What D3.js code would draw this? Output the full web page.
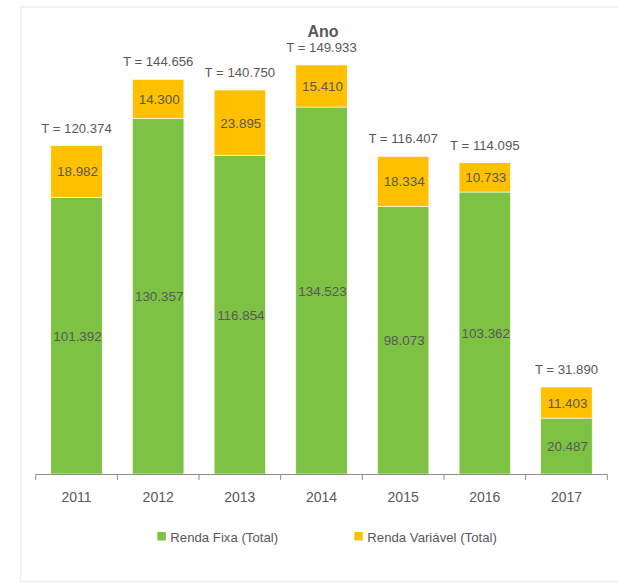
<!DOCTYPE html>
<html>
<head>
<meta charset="utf-8">
<script src="https://cdn.jsdelivr.net/npm/d3@7"></script>
<style>
  body { margin: 0; background: #fff; }
  text { font-family: "Liberation Sans", Arial, sans-serif; fill: #595959; }
</style>
</head>
<body>
<div id="chart"></div>
<script>
// data
var years = ["2011", "2012", "2013", "2014", "2015", "2016", "2017"];
var rendaFixa = [101.392, 130.357, 116.854, 134.523, 98.073, 103.362, 20.487];
var rendaVariavel = [18.982, 14.300, 23.895, 15.410, 18.334, 10.733, 11.403];
var totals = [120.374, 144.656, 140.750, 149.933, 116.407, 114.095, 31.890];
var seriesNames = ["Renda Fixa (Total)", "Renda Variável (Total)"];
var seriesColors = ["#7dc243", "#ffc000"];

var W = 618, H = 584;
var fmt = function(v) { return v.toFixed(3); };

var svg = d3.select("#chart").append("svg")
  .attr("width", W).attr("height", H);

// chart frame
svg.append("rect")
  .attr("x", 20.5).attr("y", 7).attr("width", 620).attr("height", 574.5)
  .attr("fill", "none").attr("stroke", "#ededed").attr("stroke-width", 1.5);

var x = d3.scaleBand().domain(years).range([35.7, 607.3])
  .paddingInner(0.37).paddingOuter(0.185);
var y = d3.scaleLinear().domain([0, 160]).range([474, 37.5]);

// title
svg.append("text")
  .attr("x", 323).attr("y", 37)
  .attr("text-anchor", "middle")
  .style("font-size", "16px").style("font-weight", "bold")
  .text("Ano");

var stacked = years.map(function(yr, i) {
  return { year: yr, rf: rendaFixa[i], rv: rendaVariavel[i], t: totals[i] };
});

var g = svg.append("g");

// green segment
g.selectAll("rect.rf").data(stacked).enter().append("rect")
  .attr("class", "rf")
  .attr("x", function(d) { return x(d.year); })
  .attr("width", x.bandwidth())
  .attr("y", function(d) { return y(d.rf); })
  .attr("height", function(d) { return y(0) - y(d.rf); })
  .attr("fill", seriesColors[0])
  .attr("stroke", "#fff").attr("stroke-width", 0.6);

// orange segment
g.selectAll("rect.rv").data(stacked).enter().append("rect")
  .attr("class", "rv")
  .attr("x", function(d) { return x(d.year); })
  .attr("width", x.bandwidth())
  .attr("y", function(d) { return y(d.rf + d.rv); })
  .attr("height", function(d) { return y(d.rf) - y(d.rf + d.rv); })
  .attr("fill", seriesColors[1])
  .attr("stroke", "#fff").attr("stroke-width", 0.6);

// value labels
g.selectAll("text.rfl").data(stacked).enter().append("text")
  .attr("x", function(d) { return x(d.year) + x.bandwidth() / 2 + 1; })
  .attr("y", function(d) { return (y(0) + y(d.rf)) / 2 + 5; })
  .attr("text-anchor", "middle")
  .style("font-size", "13.4px")
  .text(function(d) { return fmt(d.rf); });

g.selectAll("text.rvl").data(stacked).enter().append("text")
  .attr("x", function(d) { return x(d.year) + x.bandwidth() / 2 + 1; })
  .attr("y", function(d) { return (y(d.rf) + y(d.rf + d.rv)) / 2 + 5; })
  .attr("text-anchor", "middle")
  .style("font-size", "13.4px")
  .text(function(d) { return fmt(d.rv); });

// total labels
g.selectAll("text.tot").data(stacked).enter().append("text")
  .attr("x", function(d) { return x(d.year) + x.bandwidth() / 2; })
  .attr("y", function(d) { return y(d.t) - 13; })
  .attr("text-anchor", "middle")
  .style("font-size", "13.2px")
  .text(function(d) { return "T = " + fmt(d.t); });

// x axis
var axis = svg.append("g");
axis.append("line")
  .attr("x1", 35.7).attr("x2", 607.3).attr("y1", 474.5).attr("y2", 474.5)
  .attr("stroke", "#8c8c8c").attr("stroke-width", 1);
var edges = years.map(function(yr) { return x(yr) - x.step() * x.paddingInner() / 2; });
edges.push(607.3);
axis.selectAll("line.tick").data(edges).enter().append("line")
  .attr("x1", function(d) { return d; }).attr("x2", function(d) { return d; })
  .attr("y1", 474.5).attr("y2", 480)
  .attr("stroke", "#8c8c8c").attr("stroke-width", 1);
axis.selectAll("text").data(years).enter().append("text")
  .attr("x", function(d) { return x(d) + x.bandwidth() / 2; })
  .attr("y", 502)
  .attr("text-anchor", "middle")
  .style("font-size", "14px")
  .text(function(d) { return d; });

// legend
var legendPos = [157.3, 354.3];
var legend = svg.selectAll("g.legend").data(seriesNames).enter().append("g")
  .attr("transform", function(d, i) { return "translate(" + legendPos[i] + ",532)"; });
legend.append("rect")
  .attr("width", 8.5).attr("height", 8.5)
  .attr("fill", function(d, i) { return seriesColors[i]; });
legend.append("text")
  .attr("x", 13).attr("y", 9.5)
  .style("font-size", "13.2px")
  .text(function(d) { return d; });
</script>
</body>
</html>
